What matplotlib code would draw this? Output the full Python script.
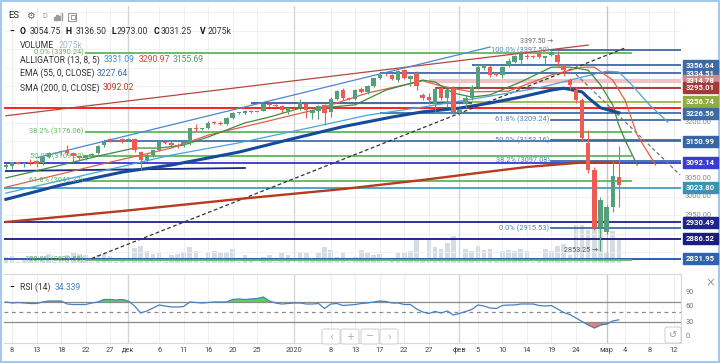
import matplotlib
matplotlib.use('Agg')
import matplotlib.pyplot as plt
import matplotlib.transforms as mtransforms
from matplotlib.patches import Rectangle, FancyBboxPatch
import numpy as np
import pandas as pd

plt.rcParams['font.family'] = ['Roboto', 'DejaVu Sans']

# one bar per day except Saturday (the Sunday evening session is its own bar)
bars = pd.DatetimeIndex([d for d in pd.date_range('2019-11-07', '2020-03-03') if d.weekday() != 5])

# OHLC, one line per week (Sun..Fri)
opens = [3080, 3083,
         3093, 3089, 3093, 3097, 3092, 3108,
         3120, 3120, 3128, 3119, 3110, 3105,
         3112, 3118, 3140, 3157, 3155, 3156,
         3153, 3156, 3122, 3099, 3113, 3127,
         3149, 3147, 3141, 3139, 3147, 3187,
         3183, 3186, 3203, 3201, 3198, 3213,
         3227, 3228, 3231, 3230, 3232, 3252,
         3248, 3247, 3233, 3240, 3243, 3250,
         3228, 3233, 3248, 3229, 3266, 3288,
         3268, 3266, 3291, 3283, 3301, 3322,
         3331, 3330, 3316, 3342, 3320, 3335,
         3275, 3270, 3250, 3295, 3268, 3292,
         3228, 3250, 3268, 3297, 3350, 3352,
         3334, 3330, 3357, 3366, 3370, 3380,
         3380, 3389, 3376, 3384, 3384, 3356,
         3316, 3290, 3262, 3145, 3072, 2918,
         2905, 2972, 3054.75]
highs = [3092, 3095,
         3095, 3094, 3101, 3099, 3110, 3122,
         3122, 3127, 3140, 3122, 3113, 3114,
         3118, 3140, 3151, 3159, 3157, 3158,
         3159, 3160, 3125, 3118, 3128, 3152,
         3151, 3153, 3145, 3150, 3187, 3198,
         3187, 3205, 3206, 3206, 3216, 3230,
         3230, 3235, 3234, 3231, 3253, 3258,
         3251, 3249, 3243, 3241, 3265, 3255,
         3238, 3248, 3252, 3270, 3290, 3295,
         3270, 3292, 3297, 3302, 3322, 3335,
         3334, 3333, 3342, 3346, 3330, 3340,
         3280, 3280, 3298, 3302, 3292, 3300,
         3240, 3275, 3302, 3360, 3360, 3356,
         3336, 3355, 3375, 3385, 3390, 3386,
         3383, 3392, 3382, 3397.5, 3396, 3360,
         3322, 3298, 3268, 3180, 3080, 3000,
         2978, 3100, 3136.5]
lows = [3075, 3076,
        3088, 3080, 3085, 3080, 3085, 3104,
        3117, 3112, 3112, 3094, 3096, 3100,
        3110, 3115, 3136, 3148, 3152, 3146,
        3150, 3120, 3072, 3094, 3108, 3125,
        3143, 3135, 3132, 3135, 3140, 3175,
        3180, 3184, 3197, 3195, 3195, 3210,
        3225, 3225, 3226, 3229, 3231, 3243,
        3244, 3228, 3225, 3239, 3235, 3213,
        3210, 3212, 3195, 3215, 3262, 3262,
        3263, 3263, 3280, 3278, 3298, 3318,
        3327, 3315, 3310, 3318, 3300, 3288,
        3262, 3250, 3228, 3262, 3242, 3225,
        3222, 3240, 3262, 3293, 3342, 3325,
        3328, 3322, 3352, 3362, 3358, 3372,
        3376, 3375, 3360, 3380, 3352, 3328,
        3290, 3255, 3150, 3064, 2910, 2853.25,
        2898, 2960, 2973]
closes = [3085, 3093,
          3090, 3092, 3091, 3090, 3108, 3119,
          3121, 3124, 3118, 3110, 3104, 3112,
          3116, 3138, 3149, 3154, 3153, 3152,
          3157, 3127, 3100, 3114, 3126, 3148,
          3145, 3140, 3138, 3148, 3185, 3183,
          3185, 3201, 3199, 3198, 3213, 3227,
          3229, 3231, 3229, 3230, 3250, 3248,
          3246, 3234, 3240, 3240, 3258, 3236,
          3234, 3245, 3228, 3266, 3287, 3268,
          3266, 3290, 3283, 3300, 3321, 3331,
          3329, 3318, 3340, 3322, 3327, 3300,
          3268, 3262, 3292, 3268, 3288, 3230,
          3236, 3268, 3297, 3352, 3357, 3330,
          3330, 3352, 3368, 3382, 3388, 3378,
          3379, 3378, 3381, 3392, 3365, 3343,
          3302, 3262, 3159, 3072, 2916, 2991,
          2972, 3055, 3031.25]
volumes = [540, 630,
           90, 450, 630, 630, 540, 810,
           90, 630, 720, 900, 810, 720,
           90, 720, 810, 630, 90, 360,
           100, 1350, 1530, 1080, 810, 900,
           100, 720, 810, 900, 1440, 1080,
           120, 990, 1080, 900, 990, 1260,
           90, 720, 270, 20, 540, 720,
           90, 900, 720, 20, 990, 900,
           180, 900, 1440, 1170, 540, 900,
           90, 540, 1170, 900, 720, 810,
           90, 270, 900, 990, 1080, 2070,
           360, 2070, 1440, 1260, 1800, 2430,
           180, 1260, 1080, 1530, 1170, 1260,
           180, 1080, 1170, 1080, 1260, 1080,
           90, 360, 1260, 1080, 1530, 1710,
           720, 3420, 3420, 2970, 3330, 3600,
           900, 2880, 2075]
rsi = [70, 68,
       69, 68, 67, 67, 70, 72,
       72, 72, 66, 65, 65, 65,
       68, 70, 75, 75, 74, 75,
       72, 62, 48, 52, 58, 64,
       62, 60, 60, 61, 70, 69,
       68, 69, 70, 70, 70, 75,
       76, 75, 76, 77, 80, 72,
       68, 66, 67, 68, 68, 66,
       66, 67, 57, 66, 67, 63,
       64, 65, 67, 68, 70, 72,
       71, 68, 68, 65, 65, 56,
       50, 47, 51, 48, 52, 44,
       47, 51, 55, 64, 62, 58,
       57, 63, 64, 64, 66, 66,
       66, 63, 62, 63, 56, 49,
       45, 38, 31, 24, 18, 24,
       26, 32, 34.339]

# indicators
ema_dates = ['2019-11-07', '2019-11-18', '2019-11-29', '2019-12-09', '2019-12-22', '2019-12-31',
             '2020-01-10', '2020-01-20', '2020-01-26', '2020-02-02', '2020-02-07', '2020-02-13',
             '2020-02-19', '2020-02-21', '2020-02-25', '2020-02-26', '2020-02-28', '2020-03-03']
ema_vals = [2993, 3032, 3067, 3086, 3121, 3154, 3190, 3216, 3230, 3240, 3254, 3270,
            3289, 3294, 3284, 3268, 3241, 3227.64]
sma_dates = ['2019-11-07', '2019-11-29', '2019-12-22', '2020-01-10', '2020-01-26', '2020-02-05',
             '2020-02-14', '2020-02-25', '2020-03-03']
sma_vals = [2931.7, 2961.5, 2994, 3021, 3045.5, 3064.4, 3080.7, 3092.8, 3092.02]
jaw_dates = ['2019-11-07', '2019-11-25', '2019-12-09', '2019-12-22', '2020-01-06', '2020-01-15',
             '2020-01-26', '2020-02-05', '2020-02-17', '2020-02-25', '2020-03-01', '2020-03-03',
             '2020-03-05', '2020-03-08', '2020-03-11']
jaw_vals = [3010, 3067, 3113, 3146, 3192, 3221, 3243, 3267, 3295, 3324, 3340, 3338, 3305, 3249, 3202]
teeth_dates = ['2019-11-07', '2019-11-25', '2019-12-09', '2019-12-16', '2019-12-26', '2020-01-06',
               '2020-01-15', '2020-01-26', '2020-01-29', '2020-02-04', '2020-02-11', '2020-02-19',
               '2020-02-25', '2020-02-27', '2020-03-02', '2020-03-03', '2020-03-04', '2020-03-06',
               '2020-03-09']
teeth_vals = [3026, 3086, 3132, 3167, 3202, 3238, 3281, 3314, 3300, 3284, 3286, 3330,
              3351, 3351, 3316, 3289, 3262, 3167, 3086]
lips_dates = ['2019-11-07', '2019-11-18', '2019-11-25', '2019-12-02', '2019-12-06', '2019-12-11',
              '2019-12-16', '2019-12-23', '2019-12-27', '2020-01-02', '2020-01-08', '2020-01-13',
              '2020-01-19', '2020-01-26', '2020-01-28', '2020-01-31', '2020-02-04', '2020-02-07',
              '2020-02-13', '2020-02-19', '2020-02-23', '2020-02-26', '2020-02-28', '2020-03-02',
              '2020-03-03', '2020-03-04', '2020-03-06']
lips_vals = [3051, 3086, 3110, 3132, 3132, 3140, 3162, 3200, 3216, 3240, 3243, 3249, 3289, 3316,
             3311, 3281, 3270, 3276, 3311, 3351, 3351, 3343, 3303, 3249, 3194, 3154, 3086]

# drawn horizontal levels
level_prices = [3356.64, 3334.51, 3314.78, 3295.01, 3256.74, 3253.90, 3240.25, 3226.56,
                3150.99, 3092.14, 3023.80, 2930.49, 2886.52, 2831.95]
level_starts = ['2020-02-04', '2020-01-17', '2020-01-27', '2020-01-28', '2020-01-27', '2019-12-24',
                '2019-11-05', '2020-01-17', '2019-11-26', '2019-11-05', '2019-11-05', '2019-11-05',
                '2019-11-05', '2019-11-05']
level_ends = ['2020-03-20'] * 5 + ['2020-02-04'] + ['2020-03-20'] * 8
level_colors = ['#2f5c9a', '#2f5c9a', '#ebc4c4', '#9e1c1c', '#8fb03c', '#2a4d8f', '#ff2020',
                '#2f64a8', '#3465a4', '#3535d0', '#4aa6c8', '#1d2490', '#14187a', '#2d5fb0']
level_widths = [1.2, 1.2, 3.0, 1.2, 1.2, 1.2, 1.4, 1.2, 1.2, 1.3, 1.4, 1.3, 1.3, 1.4]

# fibonacci retracements
fib_left_prices = [3390.24, 3176.06, 3109.90, 3043.37, 2829.55]
fib_left_labels = ['0.0% (3390.24)', '38.2% (3176.06)', '50.0% (3109.90)', '61.8% (3043.37)',
                   '100.0% (2829.55)']
fib_right_prices = [3397.50, 3209.24, 3153.16, 3097.08, 2915.53]
fib_right_labels = ['100.0% (3397.50)', '61.8% (3209.24)', '50.0% (3153.16)', '38.2% (3097.08)',
                    '0.0% (2915.53)']

# trend lines: (start date, start price, end date, end price)
trend_lines = [('2019-11-07', 3219.4, '2020-02-26', 3410.8),
               ('2019-11-13', 3105.6, '2020-02-07', 3405.6),
               ('2019-11-07', 3069.8, '2019-12-23', 3078.0),
               ('2019-11-24', 2832.9, '2020-03-04', 3402.9),
               ('2020-02-24', 3332.0, '2020-03-13', 3059.0)]
trend_styles = [dict(color='#b5473f', lw=0.9), dict(color='#4d86d0', lw=0.9),
                dict(color='#1d2a80', lw=1.3), dict(color='#333333', lw=0.9, ls=(0, (3, 2))),
                dict(color='#777777', lw=0.9, ls=(0, (3, 2)))]

# price-axis boxes
box_prices = [3334.51, 3314.78, 3356.64, 3295.01, 3256.74, 3226.56, 3150.99, 3092.14,
              3023.80, 2930.49, 2886.52, 2831.95]
box_colors = ['#3d6aa3', '#c98b8b', '#3d6aa3', '#a33a3a', '#8fae3e', '#3d6aa3', '#3766a6',
              '#3a3ad6', '#3a93b0', '#1f2590', '#1b1b85', '#2f63b0']
axis_ticks = [3200, 3050, 3000, 2950]

tick_dates = ['2019-11-08', '2019-11-13', '2019-11-18', '2019-11-22', '2019-11-27', '2019-12-01',
              '2019-12-06', '2019-12-11', '2019-12-16', '2019-12-20', '2019-12-25', '2020-01-01',
              '2020-01-08', '2020-01-13', '2020-01-17', '2020-01-22', '2020-01-27', '2020-02-02',
              '2020-02-05', '2020-02-10', '2020-02-14', '2020-02-19', '2020-02-24', '2020-03-01',
              '2020-03-04', '2020-03-08', '2020-03-12']
tick_labels = ['8', '13', '18', '22', '27', 'дек', '6', '11', '16', '20', '25', '2020',
               '8', '13', '17', '22', '27', 'фев', '5', '10', '14', '19', '24', 'мар',
               '4', '8', '12']
month_dates = ['2019-12-01', '2020-01-01', '2020-02-02', '2020-03-01']


def pos(d):
    d = pd.Timestamp(d)
    if d > bars[-1]:
        return len(bars) - 1 + (d - bars[-1]).days
    if d < bars[0]:
        return -(bars[0] - d).days
    return int(bars.searchsorted(d))


W, H = 720, 363


def fx(x):
    return x / W


def fy(y):
    return 1 - y / H


fig = plt.figure(figsize=(W / 100, H / 100), dpi=100)
fig.patch.set_facecolor('white')

XL, XR = -0.305, 110.14
ax = fig.add_axes([fx(4), fy(263), 677 / W, 257 / H])
axv = ax.twinx()
ax.set_zorder(2)
axv.set_zorder(1)
ax.patch.set_visible(False)
for a in (ax, axv):
    a.set_xticks([])
    a.set_yticks([])
    for s in a.spines.values():
        s.set_visible(False)
ax.set_xlim(XL, XR)
ax.set_ylim(2820.7, 3516.65)
axv.set_ylim(0, 23200)

xs = np.arange(len(bars))

# grid
for p in range(2850, 3501, 50):
    ax.axhline(p, color='#f0f0f0', lw=0.6, zorder=0)
for d in tick_dates:
    ax.axvline(pos(d), color='#ececec', lw=0.6, zorder=0)
for d in month_dates:
    ax.axvline(pos(d), color='#c8c8c8' if d == '2020-03-01' else '#d6d6d6', lw=1.0, zorder=0)

# volume
axv.bar(xs, volumes, width=0.75, color='#d5dce4', zorder=1)

# horizontal levels
for p, s, e, c, w in zip(level_prices, level_starts, level_ends, level_colors, level_widths):
    ax.plot([pos(s), pos(e)], [p, p], color=c, lw=w, zorder=2, solid_capstyle='butt')

# fibonacci
fl0, fl1 = pos('2019-11-22'), pos('2020-03-05')
for p, lab in zip(fib_left_prices, fib_left_labels):
    ax.plot([fl0, fl1], [p, p], color='#5cb85c', lw=1.3, zorder=2.2)
    ax.text(fl0 - 0.3, p, lab, ha='right', va='center', fontsize=5.4, color='#5cb85c', zorder=6)
fr0 = pos('2020-02-19')
for p, lab in zip(fib_right_prices, fib_right_labels):
    ax.plot([fr0, XR + 2], [p, p], color='#3d6aa8', lw=1.3, zorder=2.1)
    ax.text(fr0 - 0.3, p, lab, ha='right', va='center', fontsize=5.4, color='#5b82b8', zorder=6)

# trend lines
for (d0, p0, d1, p1), st in zip(trend_lines, trend_styles):
    ax.plot([pos(d0), pos(d1)], [p0, p1], zorder=3, **st)

# indicators
ax.plot([pos(d) for d in sma_dates], sma_vals, color='#b83b1e', lw=1.7, zorder=3)
ax.plot([pos(d) for d in jaw_dates], jaw_vals, color='#4aa3df', lw=0.9, zorder=3)
ax.plot([pos(d) for d in teeth_dates], teeth_vals, color='#e0604a', lw=0.9, zorder=3)
ax.plot([pos(d) for d in lips_dates], lips_vals, color='#3d8b3d', lw=0.9, zorder=3)
ax.plot([pos(d) for d in ema_dates], ema_vals, color='#164a9a', lw=2.2, zorder=3)

# candles
o = np.array(opens, float)
c = np.array(closes, float)
up = c >= o
cols = np.where(up, '#55a07a', '#ee5b52')
ax.vlines(xs, lows, highs, colors=cols, lw=0.8, zorder=4)
body = np.where(np.abs(c - o) < 1.5, 1.5, np.abs(c - o))
ax.bar(xs, body, bottom=np.minimum(o, c), width=0.72, color=cols, lw=0, zorder=4)

# high / low markers (nudged so they sit just above / beside the fib labels)
ax.text(pos('2020-02-19') + 0.2, 3397.5 + 22, '3397.50 \u2192', ha='right', va='center',
        fontsize=5, color='#666', zorder=6)
ax.text(pos('2020-02-28') - 0.3, 2853.25, '2853.25 \u2192', ha='right', va='center',
        fontsize=5.2, color='#555', zorder=6)

# price axis
blend = mtransforms.blended_transform_factory(fig.transFigure, ax.transData)
for t in axis_ticks:
    ax.text(fx(685), t, f'{t:.2f}', transform=blend, ha='left', va='center', fontsize=5.4,
            color='#888', clip_on=False, zorder=9)
bh = 11 * 2.708
for p, col in zip(box_prices, box_colors):
    ax.add_patch(Rectangle((fx(683), p - bh / 2), 35 / W, bh, transform=blend, color=col,
                           clip_on=False, zorder=10))
    ax.text(fx(700.5), p, f'{p:.2f}', transform=blend, ha='center', va='center', fontsize=5.6,
            color='white', fontweight='bold', clip_on=False, zorder=11)

# RSI pane
axr = fig.add_axes([fx(4), fy(343), 677 / W, 69 / H])
axr.set_xlim(XL, XR)
axr.set_ylim(-12, 126)
for d in tick_dates:
    axr.axvline(pos(d), color='#ececec', lw=0.6, zorder=0)
for d in month_dates:
    axr.axvline(pos(d), color='#c8c8c8' if d == '2020-03-01' else '#d6d6d6', lw=1.0, zorder=0)
r = np.array(rsi)
axr.fill_between(xs, r, 70, where=r >= 70, interpolate=True, color='#55d655', lw=0, zorder=1)
axr.fill_between(xs, r, 30, where=r <= 30, interpolate=True, color='#f27c7c', lw=0, zorder=1)
axr.axhline(70, color='#8a8a8a', lw=0.9, zorder=1)
axr.axhline(50, color='#8a8a8a', lw=0.9, ls=(0, (3, 3)), zorder=1)
axr.axhline(30, color='#8a8a8a', lw=0.9, zorder=1)
axr.plot(xs, r, color='#4a7fc1', lw=0.9, zorder=2)
axr.set_yticks([])
axr.set_xticks([pos(d) for d in tick_dates])
axr.set_xticklabels(tick_labels)
axr.tick_params(axis='x', length=0, labelsize=5.3, labelcolor='#444', pad=3)
axr.spines['left'].set_visible(False)
for s in ('top', 'right', 'bottom'):
    axr.spines[s].set_color('#d8d8d8')
    axr.spines[s].set_linewidth(0.8)
rblend = mtransforms.blended_transform_factory(fig.transFigure, axr.transData)
for v in (90, 60, 30, 0):
    axr.text(fx(686), v, str(v), transform=rblend, ha='left', va='center', fontsize=5.4,
             color='#777', clip_on=False)

# legend / toolbar text
def put(x, y, s, **kw):
    kw.setdefault('fontsize', 6.2)
    kw.setdefault('color', '#333')
    fig.text(fx(x), fy(y), s, va='center', ha='left', **kw)


put(8, 16, 'ES', fontsize=6.8, color='#222')
put(26, 16, '\u2699', fontsize=7, color='#666', family=['DejaVu Sans'])
put(42, 17, 'D', fontsize=5.2, color='#999')
for i, hgt in enumerate([3, 5, 4, 7]):
    fig.add_artist(Rectangle((fx(54 + i * 2.3), fy(20)), 1.5 / W, hgt / H,
                             transform=fig.transFigure, color='#9a9a9a'))
fig.add_artist(Rectangle((fx(68), fy(21)), 8 / W, 8 / H, transform=fig.transFigure,
                         fill=False, ec='#9a9a9a', lw=0.8))
fig.add_artist(Rectangle((fx(71), fy(19)), 4 / W, 4 / H, transform=fig.transFigure,
                         fill=False, ec='#9a9a9a', lw=0.7))

put(9, 31, '\u2212', fontweight='bold', color='#111')
for x, s, b in [(20, 'O', True), (30, '3054.75', False), (65, 'H', True), (76, '3136.50', False),
                (111, 'L', True), (117, '2973.00', False), (154, 'C', True), (161, '3031.25', False),
                (200, 'V', True), (208, '2075k', False)]:
    put(x, 31, s, fontweight='bold' if b else 'normal', color='#111' if b else '#333')
put(20, 45, 'VOLUME')
put(59, 45, '2075k', color='#a9bccf')
put(20, 60, 'ALLIGATOR (13, 8, 5)')
put(104, 60, '3331.09', color='#3d8fd0')
put(139, 60, '3290.97', color='#d0453c')
put(173, 60, '3155.69', color='#4f9a5a')
put(20, 73, 'EMA (55, 0, CLOSE)')
put(97, 73, '3227.64', color='#3a6db2')
put(20, 88, 'SMA (200, 0, CLOSE)')
put(103, 88, '3092.02', color='#c43a2a')

put(9, 287, '\u2212', fontweight='bold', color='#111')
put(20, 287, 'RSI (14)')
put(55, 287, '34.339', color='#4a7fc1')
put(705, 283, '\u00d7', fontsize=8.5, color='#999', family=['DejaVu Sans'])

# navigation buttons
for x0, sym in [(322, '\u2039'), (341, '+'), (361, '\u2212'), (380, '\u203a')]:
    fig.add_artist(FancyBboxPatch((fx(x0), fy(344)), 18 / W, 15 / H, transform=fig.transFigure,
                                  boxstyle='round,pad=0,rounding_size=0.004', fc='white',
                                  ec='#d4d4d4', lw=0.8))
    fig.text(fx(x0 + 9), fy(336.5), sym, ha='center', va='center', fontsize=7, color='#aaa',
             family=['DejaVu Sans'])
fig.add_artist(FancyBboxPatch((fx(665), fy(343)), 16 / W, 16 / H, transform=fig.transFigure,
                              boxstyle='round,pad=0,rounding_size=0.004', fc='white',
                              ec='#d4d4d4', lw=0.8))
fig.text(fx(673), fy(335), '\u21ba', ha='center', va='center', fontsize=7, color='#999',
         family=['DejaVu Sans'])

# outer frame
fig.add_artist(Rectangle((0.001, 0.002), 0.998, 0.996, transform=fig.transFigure, fill=False,
                         ec='#a5c8ec', lw=1.5))

fig.savefig('out.png', dpi=100)
